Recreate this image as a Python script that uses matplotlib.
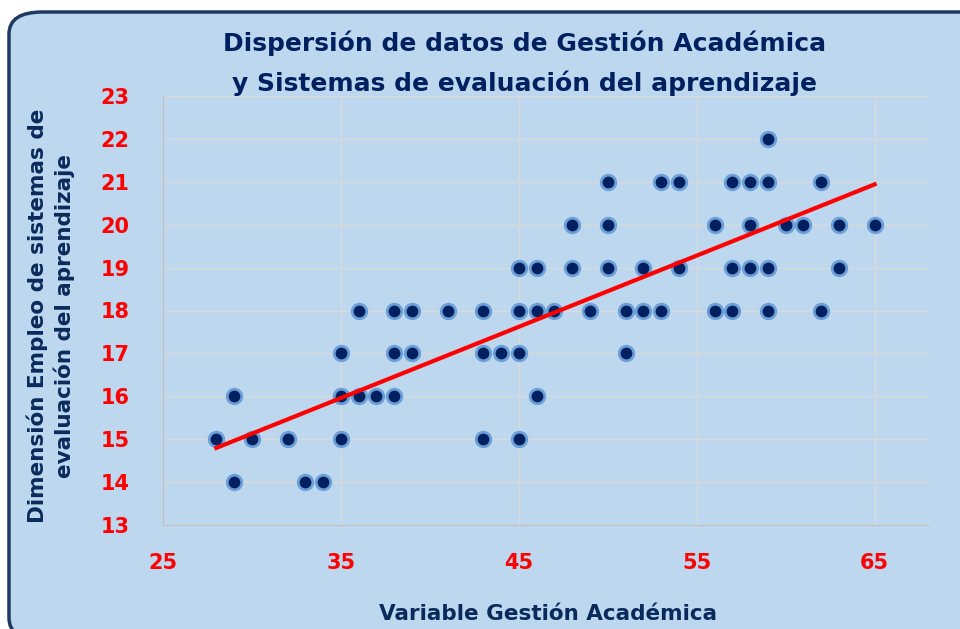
import numpy as np
import matplotlib.pyplot as plt
from matplotlib.patches import FancyBboxPatch

# datos
gestion = [28, 29, 29, 30, 32, 33, 34, 35, 35, 35, 35, 36, 36, 37, 38, 38, 38,
           39, 39, 41, 43, 43, 43, 44, 45, 45, 45, 45, 46, 46, 46, 47, 48, 48,
           49, 50, 50, 50, 51, 51, 52, 52, 53, 53, 54, 54, 56, 56, 57, 57, 57,
           58, 58, 58, 59, 59, 59, 59, 60, 61, 62, 62, 63, 63, 65]
evaluacion = [15, 16, 14, 15, 15, 14, 14, 15, 16, 17, 16, 16, 18, 16, 16, 17, 18,
              17, 18, 18, 18, 17, 15, 17, 17, 18, 19, 15, 19, 18, 16, 18, 19, 20,
              18, 21, 20, 19, 18, 17, 19, 18, 21, 18, 21, 19, 20, 18, 21, 19, 18,
              21, 20, 19, 22, 21, 19, 18, 20, 20, 21, 18, 20, 19, 20]

# linea de tendencia (hay puntos repetidos que no se ven)
pendiente = 0.166
intercepto = 10.15

x = np.array(gestion)
y = np.array(evaluacion)

navy = '#0b2a5c'
bg = '#bdd7ee'

fig = plt.figure(figsize=(9.6, 6.29), dpi=100)
fig.patch.set_facecolor('white')

box = FancyBboxPatch((9 / 960, 1 - 640 / 629), 1.1, 640 / 629 - 12 / 629,
                     boxstyle='round,pad=0,rounding_size=0.035',
                     transform=fig.transFigure, facecolor=bg,
                     edgecolor='#1f3864', linewidth=2.5, zorder=-5)
fig.add_artist(box)

ax = fig.add_axes([163 / 960, 104 / 629, 765 / 960, 429 / 629])
ax.set_zorder(2)
ax.set_facecolor(bg)

ax.scatter(x, y, s=110, color='#002060', edgecolors='#6a9fd8', linewidths=2, zorder=3)

xs = np.array([x.min(), x.max()])
ax.plot(xs, pendiente * xs + intercepto, color='red', lw=3, zorder=4)

ax.set_xlim(25, 68)
ax.set_ylim(13, 23)
ax.set_xticks([25, 35, 45, 55, 65])
ax.set_yticks(range(13, 24))
ax.grid(True, color='#d9d9d9', lw=1)
ax.set_axisbelow(True)
for s in ['top', 'right']:
    ax.spines[s].set_visible(False)
for s in ['left', 'bottom']:
    ax.spines[s].set_color('#bfbfbf')
ax.tick_params(length=0, labelcolor='red', labelsize=15)
ax.tick_params(axis='x', pad=20)
ax.tick_params(axis='y', pad=24)
for lab in ax.get_xticklabels() + ax.get_yticklabels():
    lab.set_fontweight('bold')

fig.text(525 / 960, 1 - 43 / 629, 'Dispersión de datos de Gestión Académica',
         ha='center', va='center', fontsize=18, fontweight='bold', color='#002060', zorder=5)
fig.text(525 / 960, 1 - 83 / 629, 'y Sistemas de evaluación del aprendizaje',
         ha='center', va='center', fontsize=18, fontweight='bold', color='#002060', zorder=5)
fig.text(51 / 960, 1 - 316 / 629, 'Dimensión Empleo de sistemas de\nevaluación del aprendizaje',
         ha='center', va='center', rotation=90, fontsize=15.5, fontweight='bold',
         color=navy, linespacing=1.3, zorder=5)
fig.text(548 / 960, 1 - 614 / 629, 'Variable Gestión Académica',
         ha='center', va='center', fontsize=15.5, fontweight='bold', color=navy, zorder=5)

fig.savefig('out.png', dpi=100)
